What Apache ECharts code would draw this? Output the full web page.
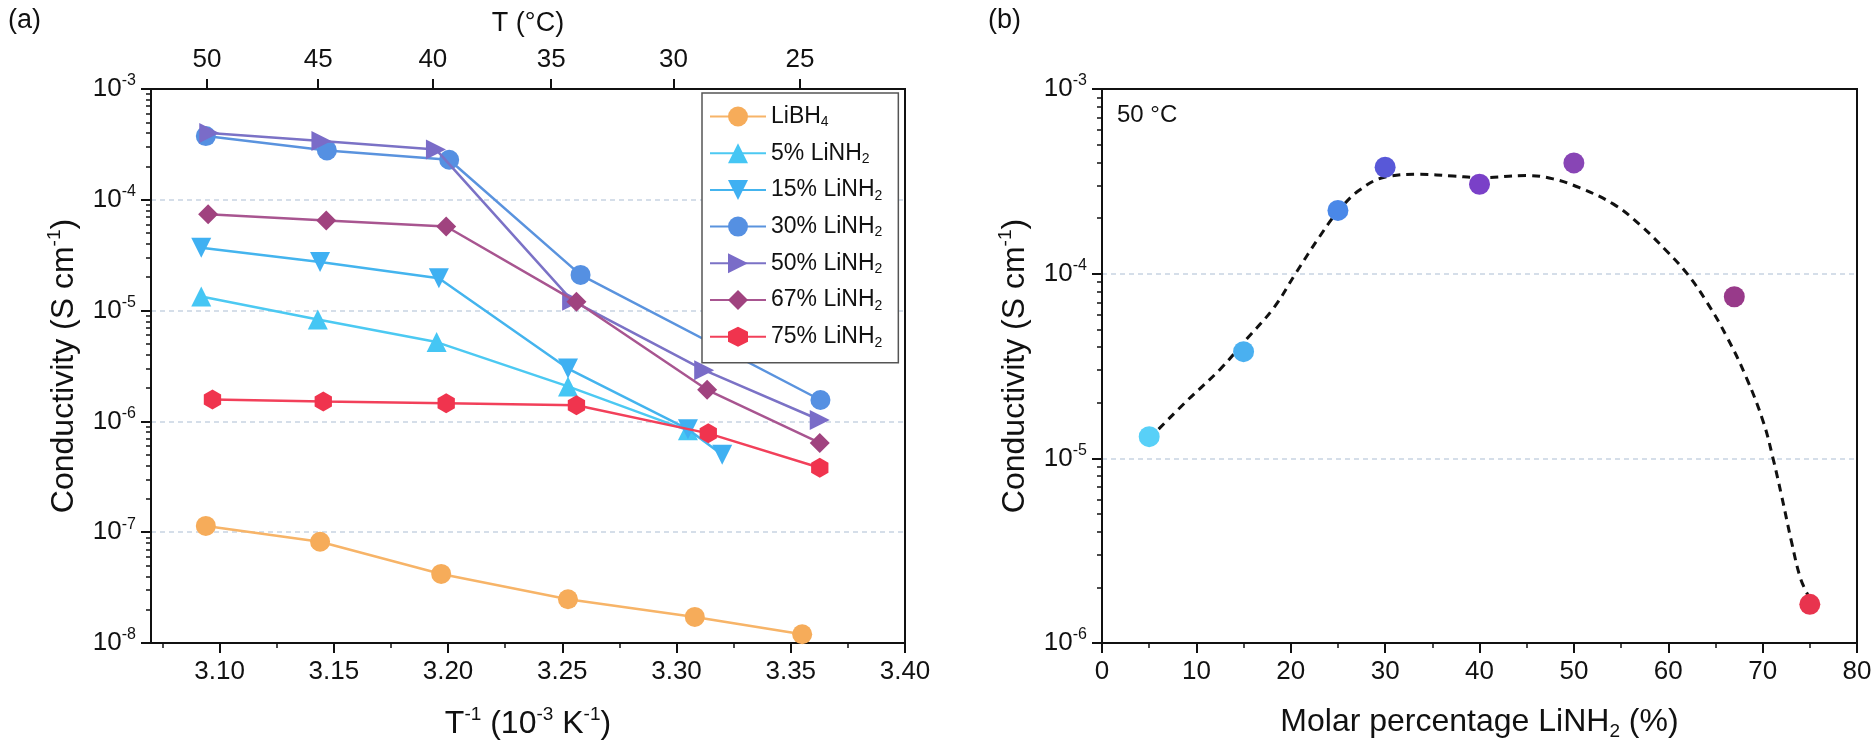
<!DOCTYPE html>
<html><head><meta charset="utf-8">
<script src="https://cdn.jsdelivr.net/npm/echarts@6.0.0/dist/echarts.min.js"></script>
<style>html,body{margin:0;padding:0;background:#fff}#c{width:1876px;height:750px}</style>
</head><body><div id="c"></div>
<script>
// ---------- tick labels ----------
const invTTicks = [3.10, 3.15, 3.20, 3.25, 3.30, 3.35, 3.40];
const invTMinorTicks = [3.075, 3.125, 3.175, 3.225, 3.275, 3.325, 3.375];
const tempTicks = [50, 45, 40, 35, 30, 25];
const molarTicksMax = 80;

// ---------- panel (a): conductivity vs 1/T ----------
const seriesNames = ['LiBH4', '5% LiNH2', '15% LiNH2', '30% LiNH2', '50% LiNH2', '67% LiNH2', '75% LiNH2'];

const invT_LiBH4 = [3.094, 3.144, 3.197, 3.2525, 3.308, 3.355];
const sig_LiBH4  = [1.14e-7, 8.2e-8, 4.2e-8, 2.48e-8, 1.72e-8, 1.2e-8];

const invT_5  = [3.092, 3.143, 3.195, 3.2525, 3.305];
const sig_5   = [1.34e-5, 8.3e-6, 5.2e-6, 2.07e-6, 8.3e-7];

const invT_15 = [3.092, 3.144, 3.196, 3.2525, 3.305, 3.32];
const sig_15  = [3.7e-5, 2.74e-5, 1.96e-5, 3.0e-6, 8.5e-7, 5.0e-7];

const invT_30 = [3.094, 3.147, 3.2005, 3.258, 3.363];
const sig_30  = [3.76e-4, 2.79e-4, 2.3e-4, 2.1e-5, 1.56e-6];

const invT_50 = [3.0955, 3.1446, 3.1947, 3.2543, 3.3121, 3.3627];
const sig_50  = [4.0e-4, 3.4e-4, 2.85e-4, 1.23e-5, 2.9e-6, 1.03e-6];

const invT_67 = [3.095, 3.1467, 3.1992, 3.2562, 3.3134, 3.3627];
const sig_67  = [7.4e-5, 6.5e-5, 5.74e-5, 1.2e-5, 1.93e-6, 6.4e-7];

const invT_75 = [3.0969, 3.1454, 3.1992, 3.2562, 3.3139, 3.3627];
const sig_75  = [1.58e-6, 1.51e-6, 1.46e-6, 1.40e-6, 7.8e-7, 3.82e-7];

// ---------- panel (b): conductivity at 50 °C vs molar % ----------
const molarPct = [5, 15, 25, 30, 40, 50, 67, 75];
const sigma50C = [1.31e-5, 3.78e-5, 2.2e-4, 3.77e-4, 3.05e-4, 3.98e-4, 7.5e-5, 1.62e-6];

// dashed guide curve
const fitPct   = [6.0, 9.0, 12.5, 15.3, 18.2, 20.5, 23.1, 25.0, 27.3, 30.2, 33.7, 37.2, 40.0, 45.0, 47.8, 50.6, 54.2, 57.0, 59.8, 62.0, 64.1, 66.2, 68.3, 70.1, 71.1, 72.0, 73.1, 74.0, 74.8];
const fitSigma = [1.44e-5, 2.05e-5, 3.03e-5, 4.41e-5, 6.53e-5, 1.0e-4, 1.6e-4, 2.17e-4, 2.84e-4, 3.35e-4, 3.45e-4, 3.38e-4, 3.31e-4, 3.40e-4, 3.26e-4, 2.92e-4, 2.38e-4, 1.84e-4, 1.33e-4, 1.0e-4, 7.0e-5, 4.56e-5, 2.72e-5, 1.56e-5, 1.0e-5, 6.3e-6, 3.46e-6, 2.25e-6, 1.82e-6];

// ---------- styling ----------
const FONT = 'Liberation Sans, Arial, Helvetica, sans-serif';
const INK = '#111';
const HEX = 'path://M50,0 L93.3,25 L93.3,75 L50,100 L6.7,75 L6.7,25 Z';
const leftStyles = [
  {line: '#f7b468', mark: '#f6ac5a', symbol: 'circle', rot: 0},
  {line: '#4cc9f2', mark: '#45c6f4', symbol: 'triangle', rot: 0},
  {line: '#44b4ee', mark: '#3fb0f2', symbol: 'triangle', rot: 180},
  {line: '#5a93de', mark: '#5590e2', symbol: 'circle', rot: 0},
  {line: '#7b72c6', mark: '#7a6cc8', symbol: 'triangle', rot: -90},
  {line: '#a85590', mark: '#a0437f', symbol: 'diamond', rot: 0},
  {line: '#f2405a', mark: '#f0344e', symbol: HEX, rot: 0}
];
const pointColors = ['#58d0f8', '#4ab0f0', '#4a88e8', '#5858d8', '#7a40c8', '#8845b5', '#983a8a', '#e8344e'];

const zip = (xs, ys) => xs.map((x, i) => [x, ys[i]]);
const leftData = [
  zip(invT_LiBH4, sig_LiBH4), zip(invT_5, sig_5), zip(invT_15, sig_15), zip(invT_30, sig_30),
  zip(invT_50, sig_50), zip(invT_67, sig_67), zip(invT_75, sig_75)
];

function logMinor(e0, e1) {
  const out = [];
  for (let e = e0; e < e1; e++) for (let m = 2; m <= 9; m++) out.push(e + Math.log10(m));
  return out;
}

const supRich = {
  b: {fontSize: 26, color: INK, fontFamily: FONT, lineHeight: 32},
  s: {fontSize: 16, color: INK, fontFamily: FONT, verticalAlign: 'top', lineHeight: 16}
};
const titleRich = {
  a: {fontSize: 32, color: INK, fontFamily: FONT, lineHeight: 38},
  s: {fontSize: 19, color: INK, fontFamily: FONT, verticalAlign: 'top', lineHeight: 19},
  d: {fontSize: 19, color: INK, fontFamily: FONT, verticalAlign: 'bottom', lineHeight: 19}
};
const axisLineStyle = {show: true, onZero: false, lineStyle: {color: INK, width: 2}};
const majorTick = {show: true, length: 10, inside: false, lineStyle: {color: INK, width: 2}};
const minorTickStyle = {color: INK, width: 1.5};
const gridLine = {show: true, showMinLine: false, showMaxLine: false,
  lineStyle: {color: '#c8d3e2', type: [5, 4], width: 1.5}};
const logLabel = {
  fontSize: 26, color: INK, margin: 15,
  formatter: v => '{b|10}{s|' + Math.round(Math.log10(v)) + '}',
  rich: supRich
};
const tempTickPos = tempTicks.map(t => 1000 / (t + 273.15));

const option = {
  animation: false,
  backgroundColor: '#fff',
  textStyle: {fontFamily: FONT, color: INK},
  grid: [
    {left: 151, top: 89, width: 754, height: 554, show: true, borderColor: INK, borderWidth: 2, backgroundColor: 'transparent'},
    {left: 1102, top: 89, width: 755, height: 554, show: true, borderColor: INK, borderWidth: 2, backgroundColor: 'transparent'}
  ],
  graphic: [
    {type: 'text', left: 8, top: 7, style: {text: '(a)', fontSize: 27, fontFamily: FONT, fill: INK}},
    {type: 'text', left: 988, top: 7, style: {text: '(b)', fontSize: 27, fontFamily: FONT, fill: INK}},
    {type: 'text', left: 1117, top: 103, style: {text: '50 °C', fontSize: 24, fontFamily: FONT, fill: INK}}
  ],
  xAxis: [
    { // (a) bottom
      type: 'value', gridIndex: 0, position: 'bottom', min: 3.07, max: 3.40,
      axisLine: axisLineStyle,
      axisTick: Object.assign({customValues: invTTicks}, majorTick),
      axisLabel: {customValues: invTTicks, fontSize: 26, color: INK, margin: 16, formatter: v => v.toFixed(2)},
      splitLine: {show: false},
      name: '{a|T}{s|-1}{a| (10}{s|-3}{a| K}{s|-1}{a|)}', nameLocation: 'middle', nameGap: 62,
      nameTextStyle: {rich: titleRich}
    },
    { // (a) top temperature axis
      type: 'value', gridIndex: 0, position: 'top', min: 3.07, max: 3.40,
      axisLine: axisLineStyle,
      axisTick: Object.assign({customValues: tempTickPos}, majorTick),
      axisLabel: {customValues: tempTickPos, fontSize: 26, color: INK, margin: 16,
        formatter: v => String(Math.round(1000 / v - 273.15))},
      splitLine: {show: false},
      name: 'T (°C)', nameLocation: 'middle', nameGap: 52,
      nameTextStyle: {fontSize: 27, color: INK, fontFamily: FONT}
    },
    { // (a) bottom minor ticks
      type: 'value', gridIndex: 0, position: 'bottom', min: 3.07, max: 3.40,
      axisLine: {show: false, onZero: false},
      axisTick: {show: true, length: 5, customValues: invTMinorTicks, lineStyle: minorTickStyle},
      axisLabel: {show: false}, splitLine: {show: false}
    },
    { // (b) bottom
      type: 'value', gridIndex: 1, position: 'bottom', min: 0, max: molarTicksMax, interval: 10,
      axisLine: axisLineStyle, axisTick: majorTick,
      minorTick: {show: true, splitNumber: 2, length: 5, lineStyle: minorTickStyle},
      axisLabel: {fontSize: 26, color: INK, margin: 16},
      splitLine: {show: false},
      name: '{a|Molar percentage LiNH}{d|2}{a| (%)}', nameLocation: 'middle', nameGap: 60,
      nameTextStyle: {rich: titleRich}
    },
    { // (b) top frame line
      type: 'value', gridIndex: 1, position: 'top', min: 0, max: molarTicksMax,
      axisLine: axisLineStyle, axisTick: {show: false}, axisLabel: {show: false}, splitLine: {show: false}
    }
  ],
  yAxis: [
    { // (a) main log axis
      type: 'log', logBase: 10, gridIndex: 0, position: 'left', min: 1e-8, max: 1e-3, splitNumber: 5,
      axisLine: axisLineStyle, axisTick: majorTick, axisLabel: logLabel, splitLine: gridLine,
      name: '{a|Conductivity (S cm}{s|-1}{a|)}', nameLocation: 'middle', nameGap: 68,
      nameTextStyle: {rich: titleRich}
    },
    { // (a) minor log ticks
      type: 'value', gridIndex: 0, position: 'left', min: -8, max: -3,
      axisLine: {show: false, onZero: false},
      axisTick: {show: true, length: 5, customValues: logMinor(-8, -3), lineStyle: minorTickStyle},
      axisLabel: {show: false}, splitLine: {show: false}
    },
    { // (b) main log axis
      type: 'log', logBase: 10, gridIndex: 1, position: 'left', min: 1e-6, max: 1e-3, splitNumber: 3,
      axisLine: axisLineStyle, axisTick: majorTick, axisLabel: logLabel, splitLine: gridLine,
      name: '{a|Conductivity (S cm}{s|-1}{a|)}', nameLocation: 'middle', nameGap: 68,
      nameTextStyle: {rich: titleRich}
    },
    { // (b) minor log ticks
      type: 'value', gridIndex: 1, position: 'left', min: -6, max: -3,
      axisLine: {show: false, onZero: false},
      axisTick: {show: true, length: 5, customValues: logMinor(-6, -3), lineStyle: minorTickStyle},
      axisLabel: {show: false}, splitLine: {show: false}
    }
  ],
  legend: {
    data: seriesNames, orient: 'vertical', left: 702, top: 93,
    padding: [12, 16, 13, 7], itemWidth: 56, itemHeight: 25, itemGap: 12.2,
    backgroundColor: '#fff', borderColor: '#555', borderWidth: 1.5,
    formatter: n => { const m = n.match(/^(.*?)(\d)$/); return '{n|' + m[1] + '}{s|' + m[2] + '}'; },
    textStyle: {
      fontSize: 23, color: INK, fontFamily: FONT,
      rich: {
        n: {fontSize: 23, color: INK, fontFamily: FONT, lineHeight: 26},
        s: {fontSize: 14, color: INK, fontFamily: FONT, verticalAlign: 'bottom', lineHeight: 14}
      }
    }
  },
  series: [
    ...seriesNames.map((name, i) => ({
      type: 'line', name, xAxisIndex: 0, yAxisIndex: 0,
      data: leftData[i],
      symbol: leftStyles[i].symbol, symbolRotate: leftStyles[i].rot, symbolKeepAspect: true,
      symbolSize: 20, showAllSymbol: true,
      lineStyle: {color: leftStyles[i].line, width: 2.5},
      itemStyle: {color: leftStyles[i].mark},
      z: 2 + i * 0.01
    })),
    {
      type: 'line', name: 'fit', xAxisIndex: 3, yAxisIndex: 2,
      data: zip(fitPct, fitSigma), smooth: 0.4, symbol: 'none',
      lineStyle: {color: INK, width: 3, type: [8, 6]}, z: 2
    },
    {
      type: 'scatter', name: '50 °C', xAxisIndex: 3, yAxisIndex: 2,
      data: zip(molarPct, sigma50C), symbol: 'circle', symbolSize: 21,
      itemStyle: {color: p => pointColors[p.dataIndex], opacity: 1}, z: 3
    }
  ]
};

const chart = echarts.init(document.getElementById('c'), null, {renderer: 'canvas'});
chart.setOption(option);
</script>
</body></html>
